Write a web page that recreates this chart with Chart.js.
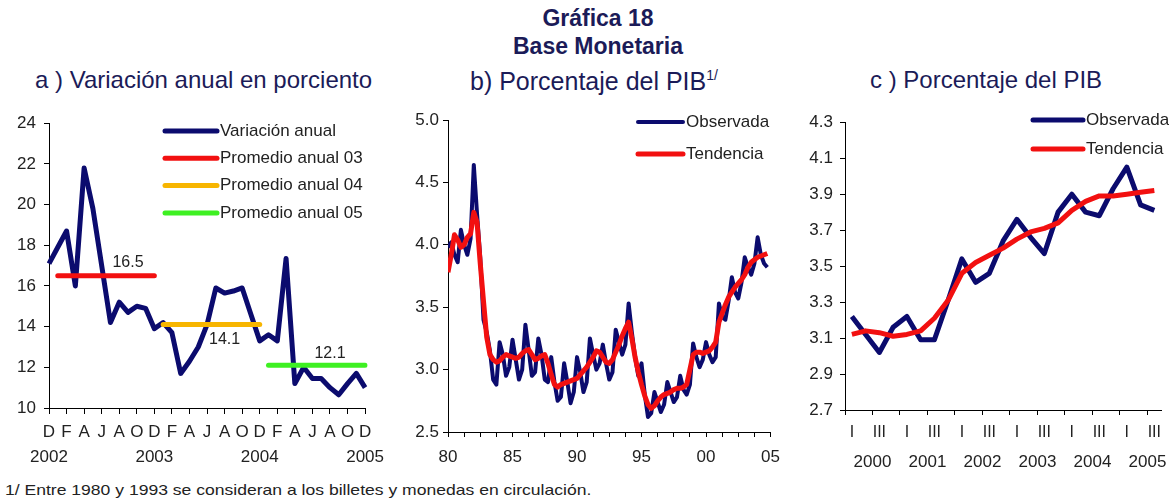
<!DOCTYPE html>
<html>
<head>
<meta charset="utf-8">
<script src="https://cdn.jsdelivr.net/npm/chart.js@4.4.1/dist/chart.umd.min.js"></script>
<style>
  body { margin: 0; background: #fff; width: 1169px; height: 501px; overflow: hidden; position: relative;
         font-family: "Liberation Sans", Arial, sans-serif; }
  .t { position: absolute; color: #1b1b58; white-space: nowrap; line-height: 1; }
  .title { font-weight: bold; font-size: 23px; left: 398px; width: 400px; text-align: center; }
  .sub { font-size: 24px; top: 68px; }
  .sub sup { font-size: 14px; vertical-align: 10px; }
  .note { position: absolute; left: 5px; top: 482px; font-size: 15px; line-height: 1; color: #222; white-space: nowrap;
          transform: scaleX(1.17); transform-origin: left top; }
  canvas { position: absolute; }
</style>
</head>
<body>
<div class="t title" style="top:7px">Gráfica 18</div>
<div class="t title" style="top:35px">Base Monetaria</div>
<div class="t sub" style="left:35px">a ) Variación anual en porciento</div>
<div class="t sub" style="left:470px;font-size:25px">b) Porcentaje del PIB<sup>1/</sup></div>
<div class="t sub" style="left:870px">c ) Porcentaje del PIB</div>

<canvas id="ca" width="390" height="370" style="left:0;top:105px"></canvas>
<canvas id="cb" width="400" height="370" style="left:390px;top:105px"></canvas>
<canvas id="cc" width="379" height="370" style="left:790px;top:105px"></canvas>

<div class="note">1/ Entre 1980 y 1993 se consideran a los billetes y monedas en circulación.</div>

<script>
(() => {
  'use strict'

  // a) monthly, Dec 2001 - Dec 2004
  const aMonths = [
    'D', 'E', 'F', 'M', 'A', 'M', 'J', 'J', 'A', 'S', 'O', 'N',
    'D', 'E', 'F', 'M', 'A', 'M', 'J', 'J', 'A', 'S', 'O', 'N',
    'D', 'E', 'F', 'M', 'A', 'M', 'J', 'J', 'A', 'S', 'O', 'N',
    'D'
  ]
  const aYears = ['2002', '2003', '2004', '2005']
  const aVariacion = [
    17.1, 17.9, 18.7, 16.0, 21.8, 19.8, 17.0, 14.2, 15.2, 14.7, 15.0, 14.9,
    13.9, 14.2, 13.7, 11.7, 12.3, 13.0, 14.1, 15.9, 15.65, 15.75, 15.9, 14.6,
    13.3, 13.6, 13.3, 17.35, 11.2, 12.0, 11.45, 11.45, 11.0, 10.65, 11.2, 11.7,
    11.0
  ]
  const aPromedio = [16.5, 14.1, 12.1]
  const aPromDesde = [1, 13, 25]
  const aPromHasta = [12, 24, 36]
  const aPromNombre = ['Promedio anual 03', 'Promedio anual 04', 'Promedio anual 05']

  // b) quarterly, 1980 - 2004
  const bObservada = [
    3.98, 4.02, 3.92, 3.86,  4.12, 4.00, 3.92, 4.05,  4.64, 4.25, 3.90, 3.40,
    3.30, 3.15, 2.92, 2.88,  3.22, 3.12, 2.95, 3.02,  3.24, 3.08, 2.92, 3.00,
    3.36, 3.16, 2.95, 2.98,  3.25, 3.12, 2.92, 2.90,  3.10, 2.90, 2.75, 2.78,
    3.05, 2.90, 2.73, 2.82,  3.10, 2.98, 2.82, 2.90,  3.25, 3.12, 3.00, 3.05,
    3.20, 3.05, 2.92, 2.98,  3.32, 3.22, 3.12, 3.20,  3.53, 3.30, 3.10, 2.95,
    3.05, 2.80, 2.62, 2.65,  2.82, 2.74, 2.66, 2.72,  2.90, 2.82, 2.74, 2.78,
    2.95, 2.84, 2.80, 2.88,  3.21, 3.10, 3.02, 3.08,  3.22, 3.12, 3.06, 3.10,
    3.53, 3.42, 3.40, 3.55,  3.74, 3.62, 3.57, 3.70,  3.90, 3.82, 3.76, 3.85,
    4.06, 3.92, 3.85, 3.82
  ]
  const bTendencia = [
    3.78, 3.92, 4.08, 4.04,  3.98, 4.00, 4.06, 4.09,  4.26, 4.18, 3.85, 3.55,
    3.26, 3.12, 3.08, 3.06,  3.07, 3.10, 3.12, 3.11,  3.10, 3.09, 3.10, 3.13,
    3.15, 3.16, 3.12, 3.08,  3.09, 3.11, 3.12, 3.05,  2.96, 2.88, 2.86, 2.88,
    2.89, 2.90, 2.91, 2.92,  2.93, 2.96, 2.99, 3.02,  3.06, 3.10, 3.15, 3.14,
    3.10, 3.06, 3.05, 3.08,  3.14, 3.20, 3.27, 3.33,  3.38, 3.25, 3.10, 2.98,
    2.88, 2.79, 2.72, 2.69,  2.71, 2.75, 2.78, 2.80,  2.81, 2.82, 2.84, 2.85,
    2.85, 2.86, 2.88, 3.00,  3.12, 3.14, 3.14, 3.13,  3.14, 3.15, 3.18, 3.22,
    3.38, 3.45, 3.52, 3.58,  3.62, 3.66, 3.69, 3.72,  3.76, 3.82, 3.86, 3.88,
    3.90, 3.91, 3.92, 3.93
  ]
  const bInicio = 1980

  // c) quarterly, 2000 I - 2005 III
  const cYears = ['2000', '2001', '2002', '2003', '2004', '2005']
  const cQuarters = [
    'I', 'II', 'III', 'IV', 'I', 'II', 'III', 'IV', 'I', 'II', 'III', 'IV',
    'I', 'II', 'III', 'IV', 'I', 'II', 'III', 'IV', 'I', 'II', 'III'
  ]
  const cObservada = [
    3.22, 3.12, 3.02, 3.16, 3.22, 3.09, 3.09, 3.31, 3.54, 3.41, 3.46, 3.64,
    3.76, 3.66, 3.57, 3.80, 3.90, 3.80, 3.78, 3.93, 4.05, 3.84, 3.81
  ]
  const cTendencia = [
    3.12, 3.14, 3.13, 3.11, 3.12, 3.14, 3.21, 3.31, 3.46, 3.52, 3.56, 3.60,
    3.65, 3.69, 3.71, 3.74, 3.81, 3.86, 3.89, 3.89, 3.90, 3.91, 3.92
  ]

  const FONT = '"Liberation Sans", Arial, sans-serif'
  const navy = '#0b0b6e'
  const rojo = '#f21010'
  const promColors = ['#f21010', '#f7b500', '#3ef022']

  Chart.defaults.font.family = FONT
  Chart.defaults.color = '#222'
  Chart.defaults.animation = false

  const everyOther = ctx => ctx.index % 2 === 0 ? '#000' : 'rgba(0,0,0,0)'

  const baseOptions = (pad) => ({
    responsive: false,
    layout: { padding: pad },
    elements: { point: { radius: 0 }, line: { tension: 0, borderJoinStyle: 'round' } },
    plugins: { legend: { display: false }, tooltip: { enabled: false } }
  })

  // line legend drawn inside the plot, one row per dataset
  const lineLegend = (x, y0, dy, len) => ({
    id: 'lineLegend',
    afterDraw (chart) {
      const c = chart.ctx
      c.save()
      c.font = '17px ' + FONT
      c.textBaseline = 'middle'
      c.fillStyle = '#222'
      chart.data.datasets.forEach((ds, k) => {
        const y = y0 + k * dy
        c.strokeStyle = ds.borderColor
        c.lineWidth = ds.borderWidth
        c.lineCap = 'round'
        c.beginPath()
        c.moveTo(x, y)
        c.lineTo(x + len, y)
        c.stroke()
        c.fillText(ds.label, x + len + 3, y)
      })
      c.restore()
    }
  })

  // a) value labels of the annual averages
  const promLabels = {
    id: 'promLabels',
    afterDraw (chart) {
      const c = chart.ctx
      const xs = chart.scales.x
      const ys = chart.scales.y
      const at = [[9, -13], [20, 15], [32, -12]]
      c.save()
      c.font = '16px ' + FONT
      c.fillStyle = '#222'
      c.textAlign = 'center'
      c.textBaseline = 'middle'
      aPromedio.forEach((v, k) => {
        c.fillText(v.toFixed(1), xs.getPixelForValue(at[k][0]), ys.getPixelForValue(v) + at[k][1])
      })
      c.restore()
    }
  }

  new Chart(document.getElementById('ca'), {
    type: 'line',
    data: {
      labels: aMonths,
      datasets: [
        { label: 'Variación anual', data: aVariacion, borderColor: navy, borderWidth: 5, order: 2 },
        ...aPromedio.map((v, k) => ({
          label: aPromNombre[k],
          data: aMonths.map((m, i) => (i >= aPromDesde[k] && i <= aPromHasta[k]) ? v : null),
          borderColor: promColors[k],
          borderWidth: 5,
          borderCapStyle: 'round',
          order: 1
        }))
      ]
    },
    options: {
      ...baseOptions({ top: 15, right: 22, left: 0, bottom: 0 }),
      scales: {
        x: {
          grid: { drawOnChartArea: false, color: everyOther, tickLength: 6 },
          border: { color: '#000' },
          ticks: {
            autoSkip: false,
            maxRotation: 0,
            padding: 6,
            font: { size: 17, lineHeight: 1.47 },
            callback: (v, i) => {
              if (i % 2) return ''
              return i % 12 === 0 ? [aMonths[i], aYears[i / 12]] : aMonths[i]
            }
          },
          afterFit: s => { s.height = 67 }
        },
        y: {
          min: 10,
          max: 24,
          ticks: { stepSize: 2, padding: 8, font: { size: 17 } },
          grid: { drawOnChartArea: false, color: '#000', tickLength: 5 },
          border: { color: '#000' },
          afterFit: s => { s.width = 49 }
        }
      }
    },
    plugins: [lineLegend(165, 26, 27.3, 52), promLabels]
  })

  new Chart(document.getElementById('cb'), {
    type: 'line',
    data: {
      datasets: [
        { label: 'Observada', data: bObservada.map((v, i) => ({ x: bInicio + i / 4, y: v })), borderColor: navy, borderWidth: 4, order: 2 },
        { label: 'Tendencia', data: bTendencia.map((v, i) => ({ x: bInicio + i / 4, y: v })), borderColor: rojo, borderWidth: 5, order: 1 }
      ]
    },
    options: {
      ...baseOptions({ top: 15, right: 13, left: 0, bottom: 0 }),
      scales: {
        x: {
          type: 'linear',
          min: 1980,
          max: 2005,
          grid: { drawOnChartArea: false, color: '#000', tickLength: 5 },
          border: { color: '#000' },
          ticks: {
            stepSize: 1.25,
            autoSkip: false,
            maxRotation: 0,
            padding: 10,
            font: { size: 17 },
            callback: v => v % 5 === 0 ? String(v).slice(2) : ''
          },
          afterFit: s => { s.height = 43 }
        },
        y: {
          min: 2.5,
          max: 5.0,
          ticks: { stepSize: 0.5, padding: 4, font: { size: 17 }, callback: v => v.toFixed(1) },
          grid: { drawOnChartArea: false, color: '#000', tickLength: 5 },
          border: { color: '#000' },
          afterFit: s => { s.width = 58 }
        }
      }
    },
    plugins: [lineLegend(248, 17, 32, 45)]
  })

  // c) year captions centred under each year
  const yearCaptions = {
    id: 'yearCaptions',
    afterDraw (chart) {
      const c = chart.ctx
      const xs = chart.scales.x
      c.save()
      c.font = '17px ' + FONT
      c.fillStyle = '#222'
      c.textAlign = 'center'
      c.textBaseline = 'middle'
      cYears.forEach((yr, k) => {
        const a = xs.getPixelForValue(4 * k + 1)
        const b = xs.getPixelForValue(4 * k + 2)
        c.fillText(yr, (a + b) / 2, chart.chartArea.bottom + 52)
      })
      c.restore()
    }
  }

  new Chart(document.getElementById('cc'), {
    type: 'line',
    data: {
      labels: cQuarters,
      datasets: [
        { label: 'Observada', data: cObservada, borderColor: navy, borderWidth: 5, order: 2 },
        { label: 'Tendencia', data: cTendencia, borderColor: rojo, borderWidth: 5, order: 1 }
      ]
    },
    options: {
      ...baseOptions({ top: 15, right: 0, left: 0, bottom: 0 }),
      scales: {
        x: {
          offset: true,
          grid: { offset: true, drawOnChartArea: false, color: everyOther, tickLength: 5 },
          border: { color: '#000' },
          ticks: {
            autoSkip: false,
            maxRotation: 0,
            padding: 8,
            font: { size: 16 },
            callback: (v, i) => (cQuarters[i] === 'I' || cQuarters[i] === 'III') ? cQuarters[i] : ''
          },
          afterFit: s => { s.height = 65 }
        },
        y: {
          min: 2.7,
          max: 4.3,
          ticks: { stepSize: 0.2, padding: 7, font: { size: 17 }, callback: v => v.toFixed(1) },
          grid: { drawOnChartArea: false, color: '#000', tickLength: 5 },
          border: { color: '#000' },
          afterFit: s => { s.width = 55 }
        }
      }
    },
    plugins: [lineLegend(243, 15, 29, 50), yearCaptions]
  })
})()
</script>
</body>
</html>
